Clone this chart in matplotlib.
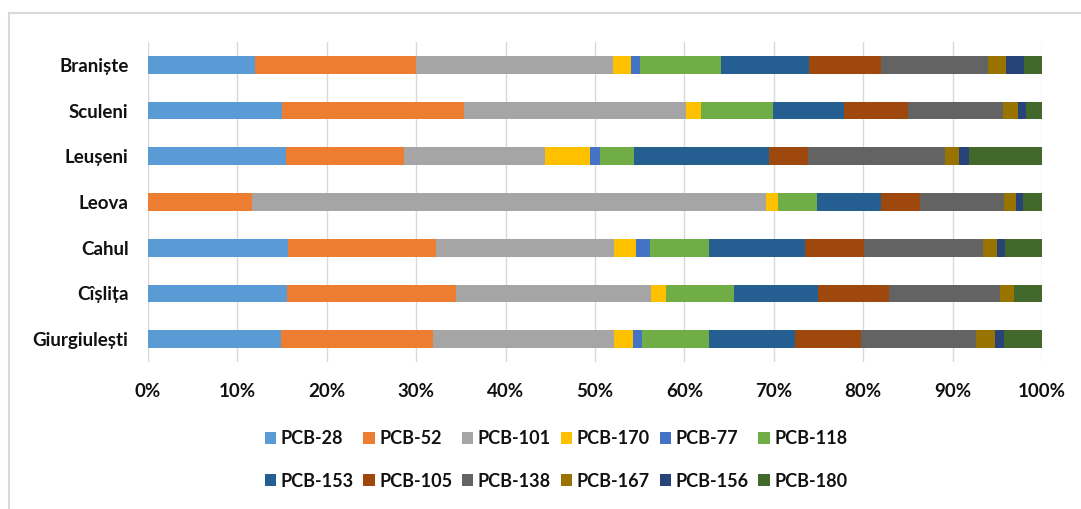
import numpy as np
import matplotlib
matplotlib.use("Agg")
import matplotlib.pyplot as plt
from matplotlib.patches import Rectangle

# stations, listed top to bottom as in the chart
stations = ["Braniște", "Sculeni", "Leușeni", "Leova", "Cahul", "Cîșlița", "Giurgiulești"]

# congener share per station (%), same order as stations
pcb28 = [12.0, 15.0, 15.4, 0.0, 15.7, 15.6, 14.9]
pcb52 = [18.0, 20.3, 13.2, 11.6, 16.5, 18.8, 17.0]
pcb101 = [22.0, 24.9, 15.8, 57.5, 19.9, 21.9, 20.2]
pcb170 = [2.0, 1.7, 5.0, 1.4, 2.5, 1.6, 2.2]
pcb77 = [1.0, 0.0, 1.2, 0.0, 1.6, 0.0, 1.0]
pcb118 = [9.1, 8.0, 3.8, 4.3, 6.6, 7.7, 7.5]
pcb153 = [9.8, 7.9, 15.1, 7.2, 10.7, 9.3, 9.6]
pcb105 = [8.1, 7.2, 4.3, 4.3, 6.6, 8.0, 7.4]
pcb138 = [12.0, 10.6, 15.3, 9.4, 13.3, 12.4, 12.8]
pcb167 = [2.0, 1.7, 1.6, 1.4, 1.6, 1.6, 2.1]
pcb156 = [2.0, 0.9, 1.1, 0.8, 0.9, 0.0, 1.0]
pcb180 = [2.0, 1.8, 8.2, 2.1, 4.1, 3.1, 4.3]

labels = ["PCB-28", "PCB-52", "PCB-101", "PCB-170", "PCB-77", "PCB-118",
          "PCB-153", "PCB-105", "PCB-138", "PCB-167", "PCB-156", "PCB-180"]
series = [pcb28, pcb52, pcb101, pcb170, pcb77, pcb118,
          pcb153, pcb105, pcb138, pcb167, pcb156, pcb180]
colors = ["#5B9BD5", "#ED7D31", "#A5A5A5", "#FFC000", "#4472C4", "#70AD47",
          "#255E91", "#9E480E", "#636363", "#997300", "#264478", "#43682B"]

plt.rcParams["font.family"] = ["Lato", "DejaVu Sans"]
plt.rcParams["font.weight"] = "bold"

data = np.array(series, dtype=float)
data = data / data.sum(axis=0) * 100  # 100% stacked

fig = plt.figure(figsize=(10.81, 5.09), dpi=100)
ax = fig.add_axes([148 / 1081, 1 - 362 / 509, 894 / 1081, 320 / 509])

# light chart frame
fig.patches.append(Rectangle((9 / 1081, -0.2), 1.2, 0.2 + 1 - 13 / 509,
                             transform=fig.transFigure, fill=False,
                             edgecolor="#D9D9D9", linewidth=1.5))

y = np.arange(len(stations))
left = np.zeros(len(stations))
handles = []
for vals, lab, col in zip(data, labels, colors):
    b = ax.barh(y, vals, left=left, height=0.385, color=col, label=lab, zorder=3)
    handles.append(b)
    left += vals

ax.set_xlim(0, 100)
ax.set_ylim(len(stations) - 0.5, -0.5)
ax.set_yticks(y)
ax.set_yticklabels(stations)
ax.set_xticks(np.arange(0, 101, 10))
ax.set_xticklabels([f"{v}%" for v in range(0, 101, 10)])
ax.tick_params(axis="both", length=0, labelsize=13.5, colors="#111111")
ax.tick_params(axis="y", pad=14)
ax.tick_params(axis="x", pad=15)
ax.grid(axis="x", color="#D9D9D9", linewidth=1, zorder=0)
for s in ax.spines.values():
    s.set_visible(False)

# legend fills by column, so interleave to get two rows of six
order = [i + 6 * r for i in range(6) for r in range(2)]
fig.legend([handles[i] for i in order], [labels[i] for i in order],
           loc="center", bbox_to_anchor=(556 / 1081, 1 - 460 / 509), ncol=6,
           frameon=False, fontsize=13, handlelength=0.62, handleheight=0.62,
           handletextpad=0.25, columnspacing=0.55, labelspacing=1.4,
           labelcolor="#111111")

fig.savefig("out.png", dpi=100)
